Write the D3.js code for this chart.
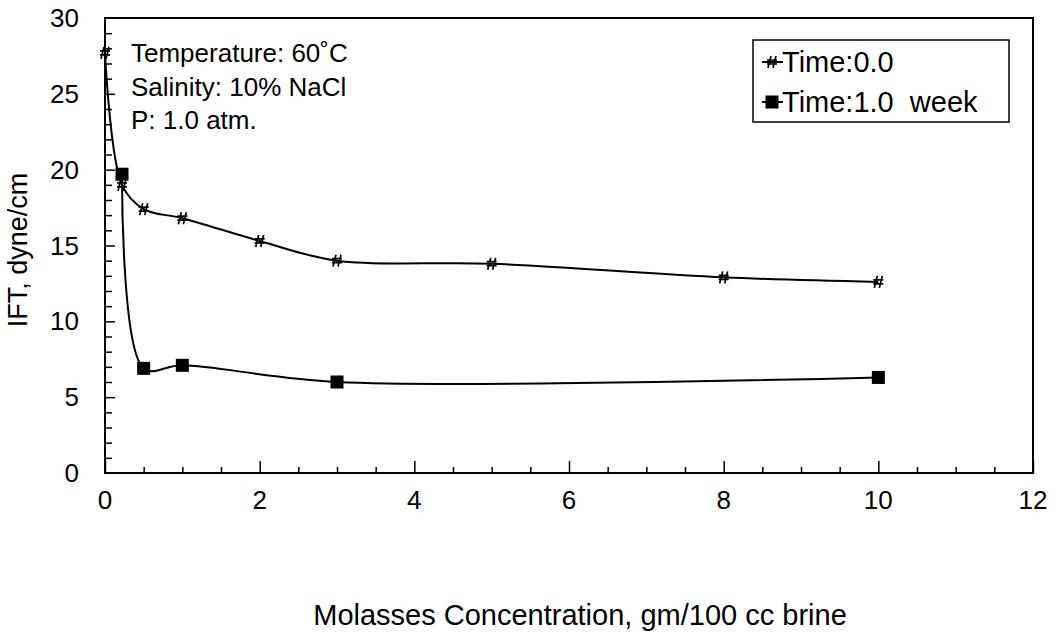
<!DOCTYPE html>
<html>
<head>
<meta charset="utf-8">
<script src="https://cdn.jsdelivr.net/npm/d3@7/dist/d3.min.js"></script>
<style>
  html, body { margin: 0; padding: 0; background: #fff; }
  svg { display: block; font-family: "Liberation Sans", Arial, sans-serif; }
</style>
</head>
<body>
<svg id="chart" width="1058" height="632"></svg>
<script>
// Molasses concentration (gm/100 cc brine) and measured IFT (dyne/cm)
const conc0 = [0, 0.22, 0.5, 1, 2, 3, 5, 8, 10];
const ift0  = [27.7, 19.0, 17.4, 16.8, 15.3, 14.0, 13.8, 12.9, 12.6];
const conc1 = [0.22, 0.5, 1, 3, 10];
const ift1  = [19.7, 6.9, 7.1, 6.0, 6.3];

const seriesNames = ["Time:0.0", "Time:1.0\u00a0\u00a0week"];
const xTickValues = [0, 2, 4, 6, 8, 10, 12];
const yTickValues = [0, 5, 10, 15, 20, 25, 30];
const notes = ["Temperature: 60\u02daC", "Salinity: 10% NaCl", "P: 1.0 atm."];

const svg = d3.select("#chart");
const plot = { left: 105, right: 1033, top: 18, bottom: 473 };

const x = d3.scaleLinear().domain([0, 12]).range([plot.left, plot.right]);
const y = d3.scaleLinear().domain([0, 30]).range([plot.bottom, plot.top]);

// frame
svg.append("rect")
  .attr("x", plot.left).attr("y", plot.top)
  .attr("width", plot.right - plot.left).attr("height", plot.bottom - plot.top)
  .attr("fill", "none").attr("stroke", "#000").attr("stroke-width", 2);

// x axis: minor ticks every 0.5, labelled ticks every 2 (pointing inward)
const xMinor = d3.range(0.5, 12, 0.5).filter(v => v % 2 !== 0);
const xAxisMinor = d3.axisTop(x).tickValues(xMinor).tickSize(6).tickFormat("");
const xAxisMajor = d3.axisTop(x).tickValues(xTickValues).tickSize(12).tickFormat("");
[xAxisMinor, xAxisMajor].forEach(ax => {
  const g = svg.append("g").attr("transform", `translate(0,${plot.bottom})`).call(ax);
  g.select(".domain").remove();
  g.selectAll("line").attr("stroke", "#000").attr("stroke-width", 1.5);
});
svg.append("g").selectAll("text").data(xTickValues).join("text")
  .attr("x", d => x(d)).attr("y", 509)
  .attr("text-anchor", "middle").attr("font-size", 26).text(d => d);

// y axis: minor ticks every 1, labelled ticks every 5 (pointing inward)
const yMinor = d3.range(1, 30, 1).filter(v => v % 5 !== 0);
const yAxisMinor = d3.axisRight(y).tickValues(yMinor).tickSize(7).tickFormat("");
const yAxisMajor = d3.axisRight(y).tickValues(yTickValues.filter(v => v > 0 && v < 30)).tickSize(10).tickFormat("");
[yAxisMinor, yAxisMajor].forEach(ax => {
  const g = svg.append("g").attr("transform", `translate(${plot.left},0)`).call(ax);
  g.select(".domain").remove();
  g.selectAll("line").attr("stroke", "#000").attr("stroke-width", 1.5);
});
svg.append("g").selectAll("text").data(yTickValues).join("text")
  .attr("x", 79).attr("y", d => y(d) + 9)
  .attr("text-anchor", "end").attr("font-size", 26).text(d => d);

// axis titles
svg.append("text")
  .attr("transform", `translate(27,${250}) rotate(-90)`)
  .attr("text-anchor", "middle").attr("font-size", 27)
  .text("IFT, dyne/cm");
svg.append("text")
  .attr("x", 580).attr("y", 625)
  .attr("text-anchor", "middle").attr("font-size", 29)
  .text("Molasses Concentration, gm/100 cc brine");

// condition notes
svg.append("g").selectAll("text").data(notes).join("text")
  .attr("x", 131).attr("y", (d, i) => [62, 96, 129][i])
  .attr("font-size", 26).text(d => d);

// smoothed series lines
const line = d3.line().x(d => x(d[0])).y(d => y(d[1])).curve(d3.curveCatmullRom.alpha(0.5));
const pts0 = conc0.map((c, i) => [c, ift0[i]]);
const pts1 = conc1.map((c, i) => [c, ift1[i]]);

svg.append("path").datum(pts0).attr("d", line)
  .attr("fill", "none").attr("stroke", "#000").attr("stroke-width", 2);
svg.append("path").datum(pts1).attr("d", line)
  .attr("fill", "none").attr("stroke", "#000").attr("stroke-width", 2);

// markers
const hashPath = "M-4,6L-1,-6M1,6L4,-6M-5,-2L5,-2M-5,2L5,2";
function drawHash(g, cx, cy) {
  g.append("path").attr("transform", `translate(${cx},${cy})`)
    .attr("d", hashPath).attr("fill", "none").attr("stroke", "#000").attr("stroke-width", 1.7);
}
function drawSquare(g, cx, cy) {
  g.append("rect").attr("x", cx - 6.5).attr("y", cy - 6.5)
    .attr("width", 13).attr("height", 13).attr("fill", "#000");
}
const mk0 = svg.append("g");
pts0.forEach(d => drawHash(mk0, x(d[0]), y(d[1])));
const mk1 = svg.append("g");
pts1.forEach(d => drawSquare(mk1, x(d[0]), y(d[1])));

// legend
const lg = svg.append("g");
lg.append("rect").attr("x", 753).attr("y", 40).attr("width", 256).attr("height", 82)
  .attr("fill", "#fff").attr("stroke", "#000").attr("stroke-width", 1.5);
const rows = [62, 102];
rows.forEach((ry, i) => {
  lg.append("line").attr("x1", 762).attr("x2", 783).attr("y1", ry).attr("y2", ry)
    .attr("stroke", "#000").attr("stroke-width", 2);
  if (i === 0) drawHash(lg, 772, ry); else drawSquare(lg, 772, ry);
  lg.append("text").attr("x", 782).attr("y", ry + 10)
    .attr("font-size", 29).text(seriesNames[i]);
});
</script>
</body>
</html>
